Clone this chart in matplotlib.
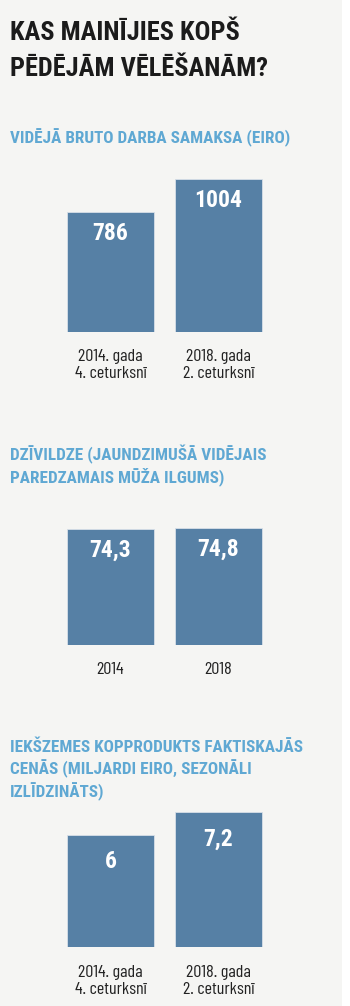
import matplotlib
matplotlib.use('Agg')
import matplotlib.pyplot as plt
from matplotlib.patches import Rectangle

# --- data ---
title_lines = ['KAS MAINĪJIES KOPŠ', 'PĒDĒJĀM VĒLĒŠANĀM?']

wage_title = ['VIDĒJĀ BRUTO DARBA SAMAKSA (EIRO)']
wage_cats = ['2014. gada\n4. ceturksnī', '2018. gada\n2. ceturksnī']
wage_vals = [786, 1004]

life_title = ['DZĪVILDZE (JAUNDZIMUŠĀ VIDĒJAIS', 'PAREDZAMAIS MŪŽA ILGUMS)']
life_cats = ['2014', '2018']
life_vals = [74.3, 74.8]

gdp_title = ['IEKŠZEMES KOPPRODUKTS FAKTISKAJĀS', 'CENĀS (MILJARDI EIRO, SEZONĀLI', 'IZLĪDZINĀTS)']
gdp_cats = ['2014. gada\n4. ceturksnī', '2018. gada\n2. ceturksnī']
gdp_vals = [6, 7.2]

W, H = 350, 1006
BG = '#f5f5f3'
BAR = '#5680a5'
SUB = '#5fa8d3'
DARK = '#1b1b1b'
NARROW = ['Barlow Condensed', 'DejaVu Sans']
plt.rcParams['font.family'] = ['Roboto Condensed', 'DejaVu Sans']

fig = plt.figure(figsize=(W/100, H/100), dpi=100, facecolor='white')
fig.patches.append(Rectangle((0, 0), 342/W, 1, transform=fig.transFigure,
                             facecolor=BG, edgecolor='none', zorder=-10))

def fx(x): return x/W
def fy(y): return 1 - y/H

for i, t in enumerate(title_lines):
    fig.text(fx(10), fy(40 + i*36), t, fontsize=19, fontweight='bold',
             color=DARK, va='baseline', ha='left')

def panel(sub, sub_y, cats, vals, bottom, ymax, scale, lab_off):
    for i, t in enumerate(sub):
        fig.text(fx(10), fy(sub_y + i*22.5), t, fontsize=12.3, fontweight='bold',
                 color=SUB, va='baseline', ha='left')
    hpx = ymax/scale
    ax = fig.add_axes([fx(56.5), fy(bottom), 216/W, hpx/H])
    ax.set_facecolor('none')
    x = list(range(len(vals)))
    ax.bar(x, vals, width=0.8, color=BAR, edgecolor='#d8e0e8', linewidth=0.6)
    for xi, v in zip(x, vals):
        ax.annotate(f'{v:g}'.replace('.', ','), xy=(xi, v), xytext=(0, -lab_off),
                    textcoords='offset points', ha='center', va='top',
                    fontsize=17, fontweight='bold', color='white')
    ax.set_xlim(-0.5, 1.5)
    ax.set_ylim(0, ymax)
    ax.set_xticks(x, cats)
    ax.tick_params(axis='x', length=0, pad=12.5, labelcolor='#222222')
    for lab in ax.get_xticklabels():
        lab.set_family(NARROW)
        lab.set_fontsize(13)
        lab.set_fontweight(400)
        lab.set_linespacing(1.2)
    ax.set_yticks([])
    for s in ax.spines.values():
        s.set_visible(False)
    return ax

panel(wage_title, 143.5, wage_cats, wage_vals, 331.7, 1100, 6.59, 7)
panel(life_title, 460, life_cats, life_vals, 645, 80, 0.642, 7)
panel(gdp_title, 752, gdp_cats, gdp_vals, 947.3, 8, 0.0534, 11)

fig.savefig('out.png', dpi=100, facecolor='white')
